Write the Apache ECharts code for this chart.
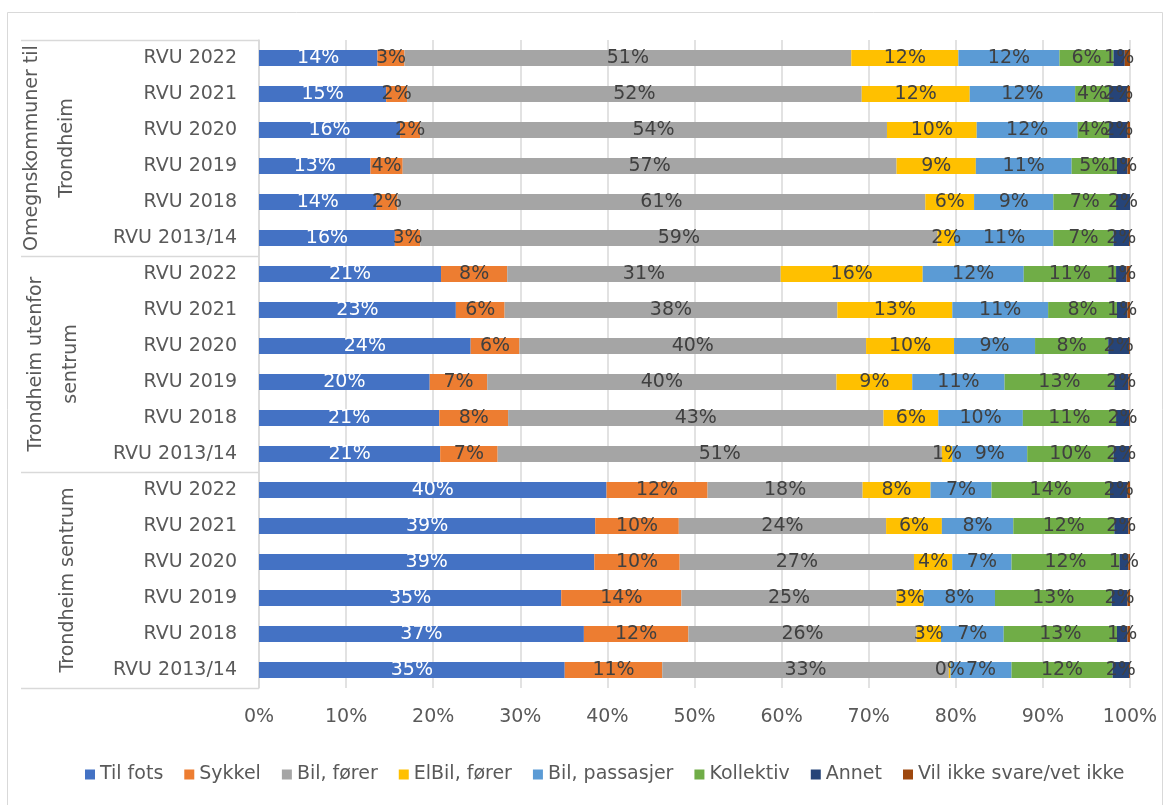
<!DOCTYPE html>
<html>
<head>
<meta charset="utf-8">
<script src="https://cdn.jsdelivr.net/npm/echarts@6/dist/echarts.min.js"></script>
<style>
html,body{margin:0;padding:0;background:#fff;}
#chart1{width:1171px;height:805px;}
</style>
</head>
<body>
<div id="chart1"></div>
<script>
// grupper og år (øverst -> nederst)
var groups=["Omegnskommuner til\nTrondheim","Trondheim utenfor\nsentrum","Trondheim sentrum"];
var years=["RVU 2022","RVU 2021","RVU 2020","RVU 2019","RVU 2018","RVU 2013/14"];
var seriesNames=["Til fots","Sykkel","Bil, fører","ElBil, fører","Bil, passasjer","Kollektiv","Annet","Vil ikke svare/vet ikke"];
var colors=["#4472C4","#ED7D31","#A5A5A5","#FFC000","#5B9BD5","#70AD47","#264478","#9E480E"];

// andeler i prosent, 18 rader: omegn(6), utenfor sentrum(6), sentrum(6)
var tilFots=[13.6,14.6,16.2,12.8,13.5,15.6, 20.9,22.6,24.3,19.6,20.7,20.8, 39.9,38.6,38.5,34.7,37.3,35.1];
var sykkel=[3.1,2.4,2.3,3.7,2.4,2.9, 7.6,5.6,5.6,6.6,7.9,6.6, 11.6,9.6,9.8,13.8,12.0,11.2];
var bilForer=[51.3,52.2,53.6,56.7,60.6,59.4, 31.4,38.2,39.8,40.1,43.1,51.0, 17.8,23.8,26.9,24.7,26.2,32.9];
var elbilForer=[12.3,12.4,10.3,9.1,5.6,2.0, 16.3,13.2,10.1,8.7,6.3,1.2, 7.8,6.4,4.4,3.1,2.8,0.2];
var bilPassasjer=[11.6,12.1,11.6,11.0,9.1,11.3, 11.6,11.0,9.3,10.6,9.7,8.6, 7.0,8.2,6.8,8.2,7.2,7.0];
var kollektiv=[6.2,3.9,3.6,5.2,7.2,6.9, 10.6,7.9,8.4,12.6,10.7,9.9, 13.6,11.6,12.4,13.4,13.0,11.6];
var annet=[1.3,2.1,2.1,1.2,1.6,1.8, 1.2,1.2,2.4,1.6,1.5,1.8, 2.0,1.6,1.0,1.8,1.2,1.9];
var vilIkke=[0.6,0.3,0.3,0.3,0.0,0.1, 0.4,0.3,0.1,0.2,0.1,0.1, 0.3,0.2,0.2,0.3,0.3,0.1];

var values=[tilFots,sykkel,bilForer,elbilForer,bilPassasjer,kollektiv,annet,vilIkke];

var cats=[];
groups.forEach(function (g,gi) {
    years.forEach(function (y) {cats.push(gi+"|"+y);});
});

var FONT="DejaVu Sans";
var gridTop=40,gridBottom=117,gridLeft=259,gridRight=41;
var band=(805-gridTop-gridBottom)/cats.length;

var series=seriesNames.map(function (name,i) {
    return {
        name:name,
        type:"bar",
        stack:"total",
        barWidth:16,
        itemStyle:{color:colors[i]},
        label:{
            show:i<7,
            position:"inside",
            fontFamily:FONT,
            fontSize:19,
            color:i===0?"#ffffff":"#404040",
            formatter:function (p) {return Math.round(p.value)+"%";}
        },
        data:values[i]
    };
});

// kategorilinjer og gruppetekster
var graphics=[{
    type:"rect",
    shape:{x:7.5,y:12.5,width:1155,height:800},
    style:{fill:"none",stroke:"#D9D9D9",lineWidth:1}
}];
for(var k=0;k<=groups.length;k++){
    var yy=Math.round(gridTop+k*6*band)+0.5;
    graphics.push({
        type:"line",
        shape:{x1:21,y1:yy,x2:gridLeft,y2:yy},
        style:{stroke:"#D9D9D9",lineWidth:1.5}
    });
}
var groupX=[50,54,68];
groups.forEach(function (g,gi) {
    graphics.push({
        type:"text",
        x:groupX[gi],
        y:gridTop+(gi*6+3)*band,
        rotation:Math.PI/2,
        style:{
            text:g,
            fontFamily:FONT,
            fontSize:19,
            lineHeight:35,
            fill:"#595959",
            align:"center",
            verticalAlign:"middle"
        }
    });
});

var myChart=echarts.init(document.getElementById("chart1"));
var option={
    animation:false,
    backgroundColor:"#ffffff",
    textStyle:{fontFamily:FONT},
    grid:{left:gridLeft,right:gridRight,top:gridTop,bottom:gridBottom,containLabel:false},
    legend:{
        bottom:16,
        left:80,
        itemWidth:10,
        itemHeight:10,
        itemGap:21,
        icon:"rect",
        textStyle:{fontFamily:FONT,fontSize:19,color:"#595959"},
        data:seriesNames
    },
    xAxis:{
        type:"value",
        min:0,
        max:100,
        interval:10,
        axisLine:{show:false},
        axisTick:{show:false},
        splitLine:{lineStyle:{color:"#D9D9D9",width:1.5}},
        axisLabel:{
            fontFamily:FONT,
            fontSize:19,
            color:"#595959",
            margin:20,
            formatter:"{value}%"
        }
    },
    yAxis:{
        type:"category",
        inverse:true,
        data:cats,
        axisTick:{show:false},
        axisLine:{show:true,lineStyle:{color:"#D9D9D9",width:1.5}},
        axisLabel:{
            fontFamily:FONT,
            fontSize:19,
            color:"#595959",
            margin:22,
            formatter:function (v) {return v.split("|")[1];}
        }
    },
    graphic:graphics,
    series:series
};
myChart.setOption(option);
</script>
</body>
</html>
